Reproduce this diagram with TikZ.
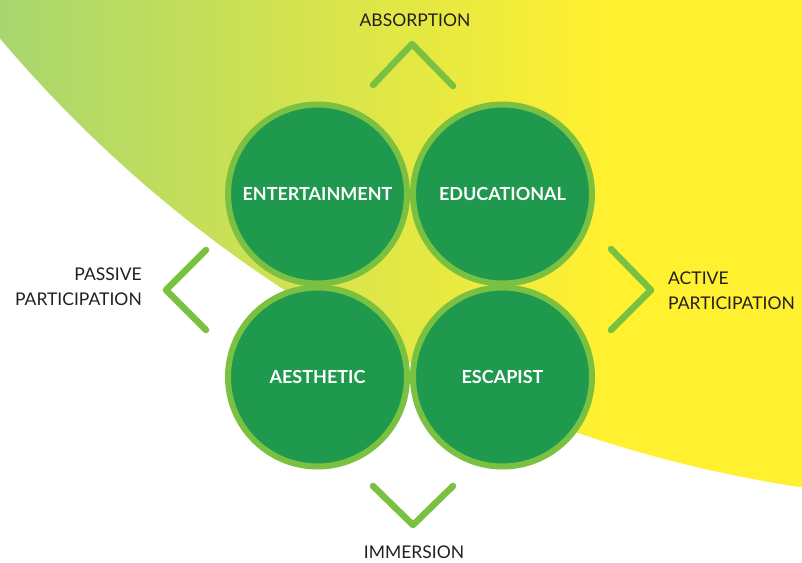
\documentclass[tikz,border=0pt]{standalone}
\usepackage{fontspec}
\setmainfont{Lato}
\definecolor{bggreen}{RGB}{168,214,110}
\definecolor{bgyellow}{RGB}{255,240,48}
\definecolor{discfill}{RGB}{31,153,78}
\definecolor{ringgreen}{RGB}{122,193,66}
\definecolor{labeldark}{RGB}{35,31,32}
\tikzset{
  disc/.style={circle, fill=discfill, draw=ringgreen, line width=6pt, minimum size=179pt, inner sep=0pt,
    font=\fontsize{18}{20}\selectfont\bfseries, text=white},
  chev/.style={draw=ringgreen, line width=6.5pt, line cap=round, line join=round},
  axislabel/.style={font=\fontsize{17.5}{20}\selectfont, text=labeldark, inner sep=0pt}
}
\begin{document}
\begin{tikzpicture}[x=1pt,y=-1pt]
\useasboundingbox (0,0) rectangle (802,562);
% background gradient disc
\begin{scope}
  \clip (998,-804) circle[radius=1306pt];
  \shade[left color=bggreen, right color=bgyellow] (0,0) rectangle (600,562);
  \fill[bgyellow] (599,0) rectangle (802,562);
\end{scope}
% four circles
\node[disc] (ent) at (317.5,194) {ENTERTAINMENT};
\node[disc] (edu) at (502.5,194) {EDUCATIONAL};
\node[disc] (aes) at (317.5,377) {AESTHETIC};
\node[disc] (esc) at (502.5,377) {ESCAPIST};
% chevrons
\draw[chev] (373,85) -- (412,44) -- (453,86);
\draw[chev] (373,486) -- (413,525) -- (453,486);
\draw[chev] (206,250) -- (166,290) -- (206,330);
\draw[chev] (611,249) -- (651,290) -- (611,330);
% axis labels
\node[axislabel, anchor=base] (abs) at (415,26) {ABSORPTION};
\node[axislabel, anchor=base] (imm) at (414,558) {IMMERSION};
\node[axislabel, anchor=base east] (pas1) at (142,280) {PASSIVE};
\node[axislabel, anchor=base east] (pas2) at (142,305) {PARTICIPATION};
\node[axislabel, anchor=base west] (act1) at (668,284) {ACTIVE};
\node[axislabel, anchor=base west] (act2) at (668,309) {PARTICIPATION};
\end{tikzpicture}
\end{document}
